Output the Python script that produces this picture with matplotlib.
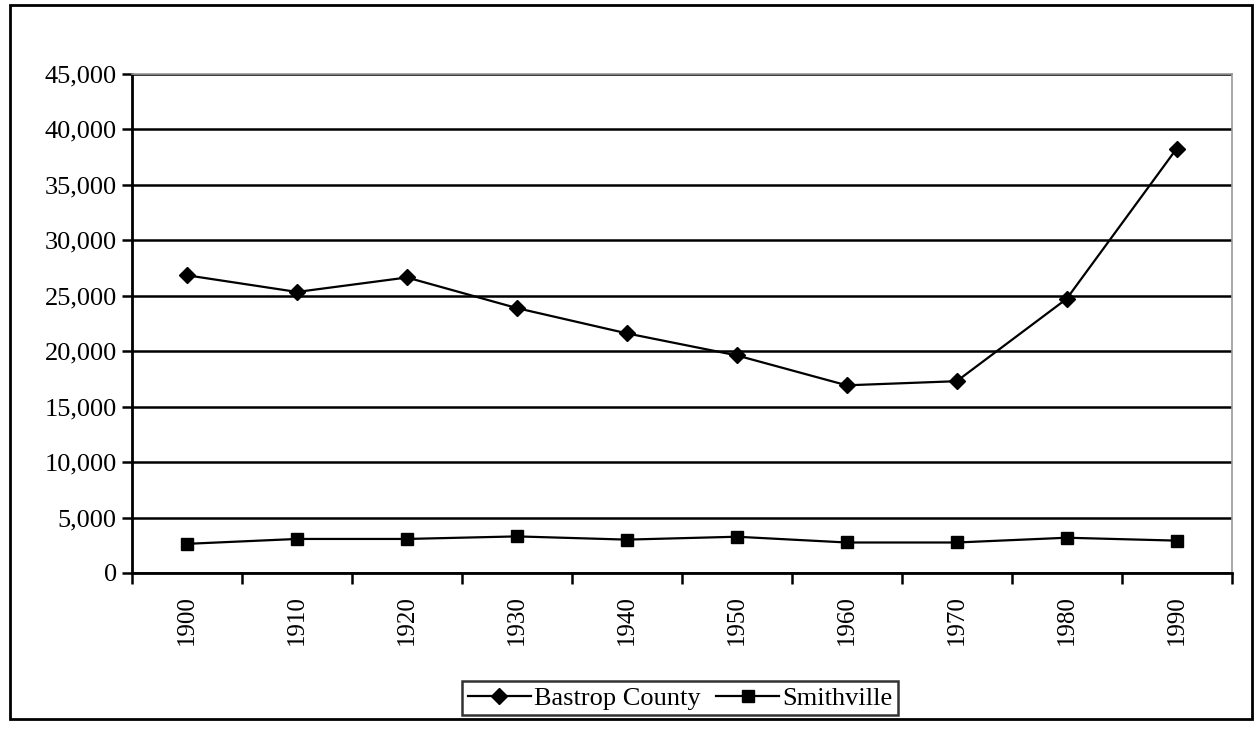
import matplotlib.pyplot as plt
from matplotlib.patches import Rectangle
from matplotlib.ticker import FuncFormatter

plt.rcParams["font.family"] = ["Liberation Serif", "DejaVu Serif"]

# Census years and population values
years = ["1900", "1910", "1920", "1930", "1940", "1950", "1960", "1970", "1980", "1990"]
bastrop = [26845, 25344, 26649, 23888, 21610, 19622, 16925, 17297, 24726, 38263]
smithville = [2630, 3070, 3070, 3300, 3010, 3270, 2750, 2750, 3180, 2920]

fig = plt.figure(figsize=(12.58, 7.29), dpi=100)
ax = fig.add_axes([0.105, 0.214, 0.874, 0.6845])

x = range(len(years))
ax.plot(x, bastrop, "-", color="black", lw=1.6, marker="D", ms=8,
        label="Bastrop County")
ax.plot(x, smithville, "-", color="black", lw=1.6, marker="s", ms=8,
        label="Smithville")

ax.set_xlim(-0.5, len(years) - 0.5)
ax.set_ylim(0, 45000)
ax.set_yticks(range(0, 45001, 5000))
ax.yaxis.set_major_formatter(FuncFormatter(lambda v, p: f"{int(v):,}"))
ax.yaxis.grid(True, color="black", lw=1.8)
ax.set_axisbelow(True)

# category labels centred, tick marks on the boundaries
ax.set_xticks(list(x))
ax.set_xticklabels(years, rotation=90, fontsize=18)
ax.set_xticks([i - 0.5 for i in range(len(years) + 1)], minor=True)
ax.tick_params(axis="x", which="major", length=0, pad=16)
ax.tick_params(axis="x", which="minor", length=8, width=1.8, direction="out")
ax.tick_params(axis="y", length=7, width=1.8, labelsize=19, pad=4)

for side in ["left", "bottom"]:
    ax.spines[side].set_linewidth(2)
for side in ["top", "right"]:
    ax.spines[side].set_color("#999999")
    ax.spines[side].set_linewidth(1.2)

leg = fig.legend(loc="center", bbox_to_anchor=(0.5405, 0.0425), ncol=2,
                 fontsize=19, frameon=True, fancybox=False, handlelength=2.4,
                 handletextpad=0.1, columnspacing=0.6, borderpad=0.2,
                 borderaxespad=0)
leg.get_frame().set_edgecolor("black")
leg.get_frame().set_linewidth(1.8)

fig.patches.append(Rectangle((0.008, 0.0137), 0.987, 0.979, transform=fig.transFigure,
                             fill=False, edgecolor="black", lw=2))

fig.savefig("out.png", dpi=100)
